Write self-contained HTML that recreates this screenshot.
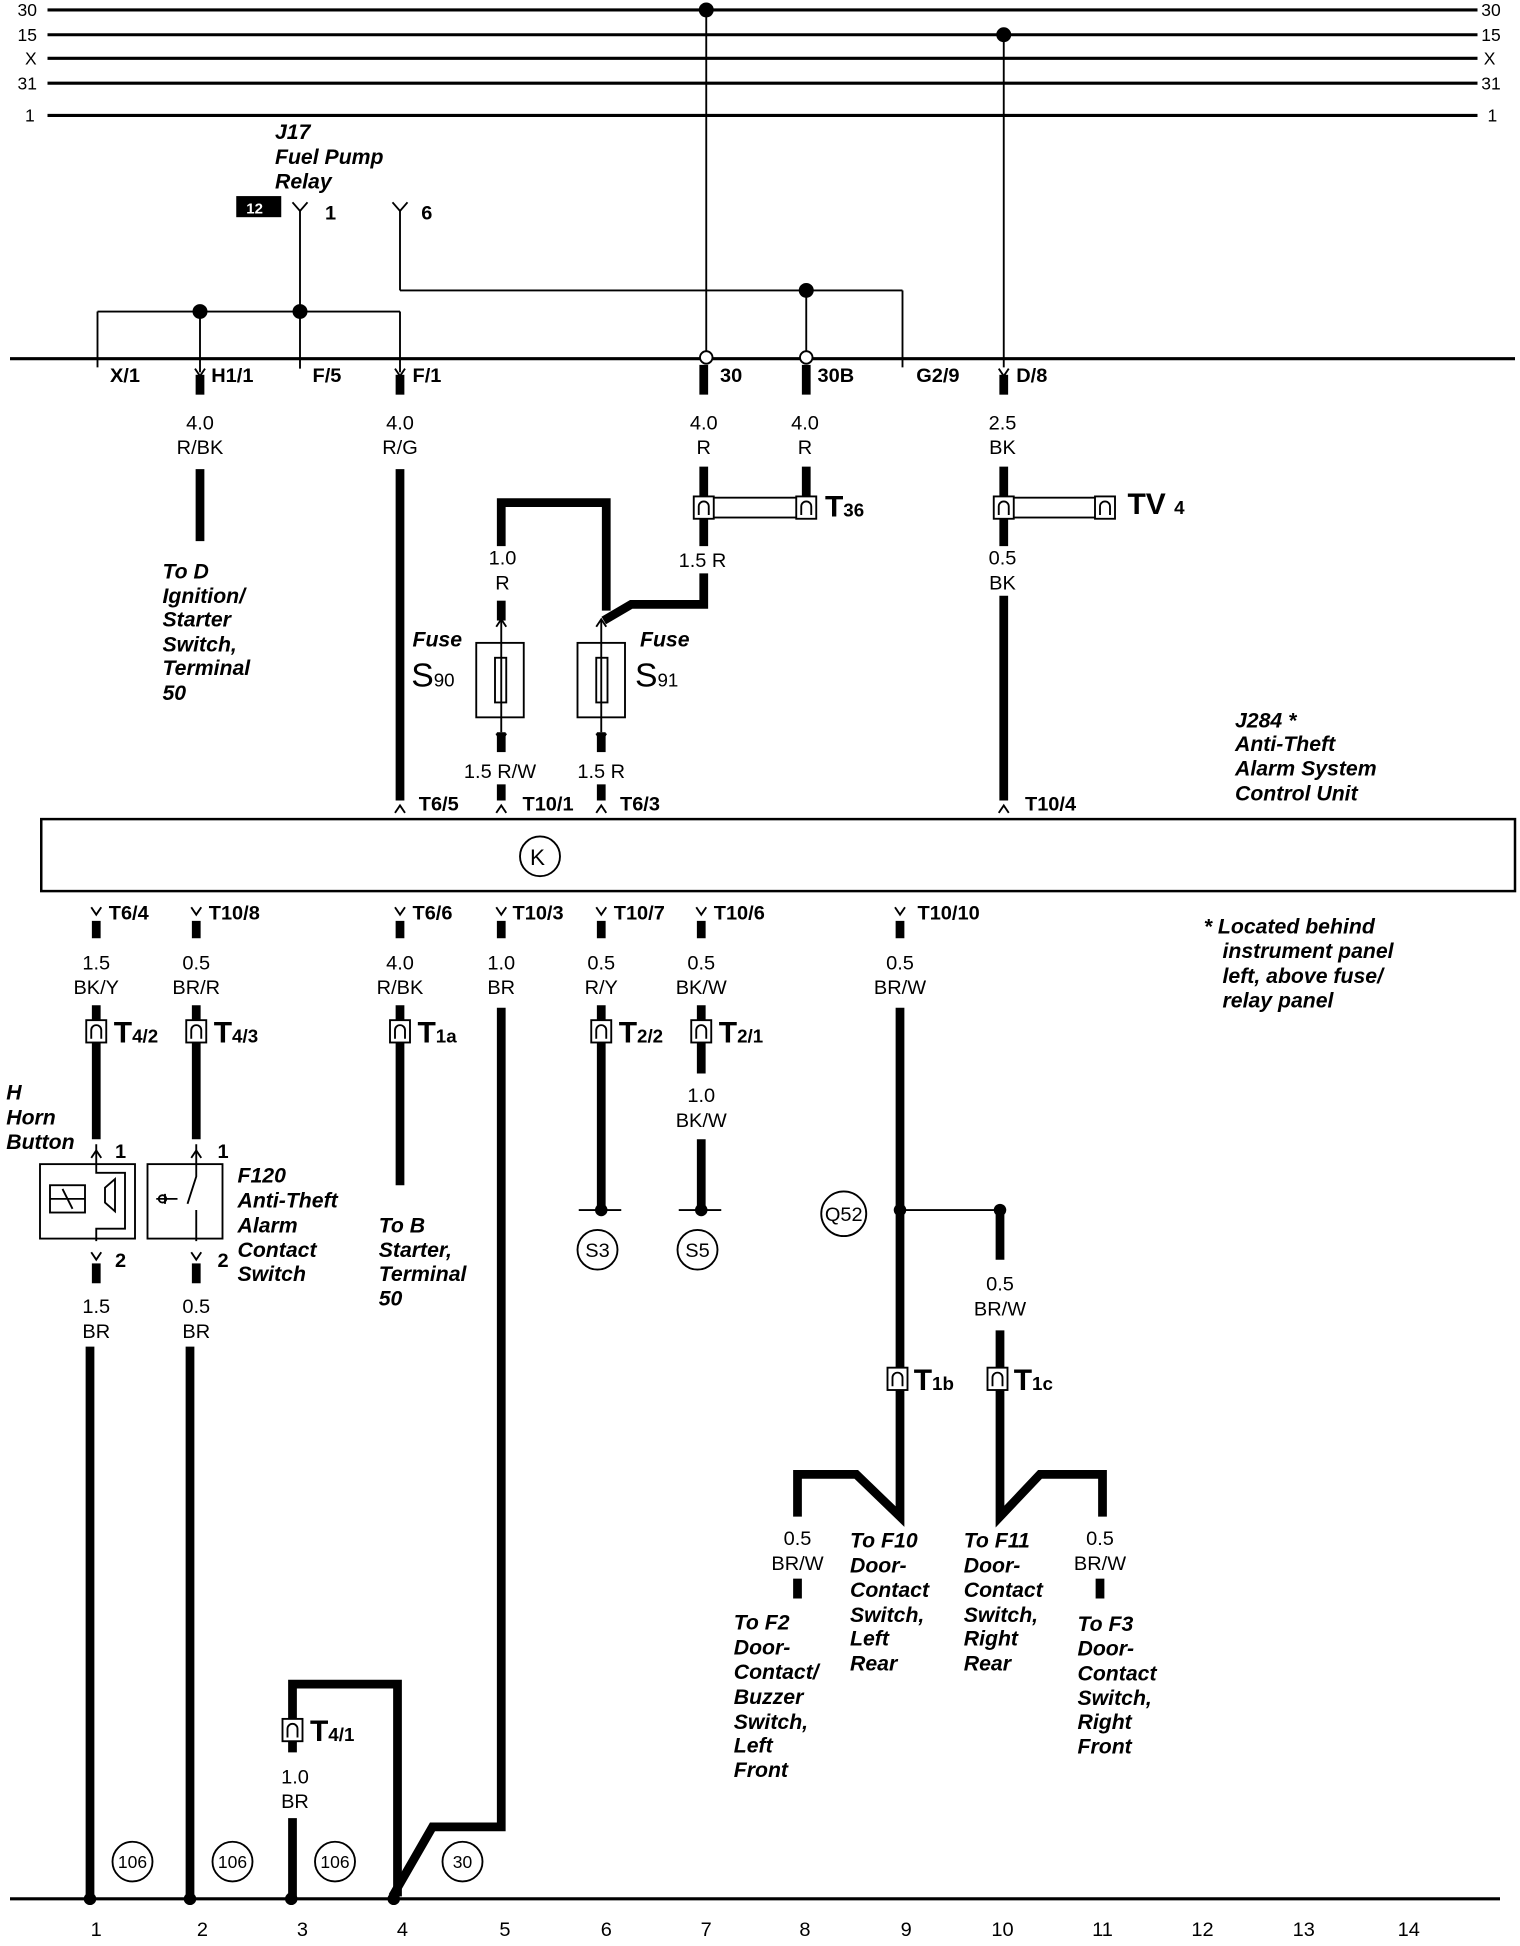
<!DOCTYPE html>
<html><head><meta charset="utf-8"><style>
html,body{margin:0;padding:0;background:#fff}
svg{display:block}
text{font-family:"Liberation Sans",sans-serif;fill:#000}
.w{font-size:16px;text-anchor:middle}
.p{font-size:16px;font-weight:bold}
.d{font-size:17px;font-weight:bold;font-style:italic}
.b{font-size:16px;text-anchor:middle}
.big{font-size:24px;font-weight:bold}
.sub{font-size:15px;font-weight:bold}
</style></head><body>
<svg width="1520" height="1946" viewBox="0 0 1216 1568" preserveAspectRatio="none" xmlns="http://www.w3.org/2000/svg">
<defs>
<g id="cn"><rect x="-8" y="-9" width="16" height="18" fill="#fff" stroke="#000" stroke-width="1.5"/><path d="M-4,6 V-1 A4,4 0 0 1 4,-1 V6" fill="none" stroke="#000" stroke-width="1.5"/></g>
<g id="ad"><path d="M-4,-5 L0,1 L4,-5" fill="none" stroke="#000" stroke-width="1.5"/></g>
<g id="au"><path d="M-4,5 L0,-1 L4,5" fill="none" stroke="#000" stroke-width="1.5"/></g>
</defs>
<g stroke="#000" fill="none">
<g stroke-width="2.5">
<line x1="38" y1="8" x2="1182" y2="8"/><line x1="38" y1="28" x2="1182" y2="28"/>
<line x1="38" y1="47" x2="1182" y2="47"/><line x1="38" y1="67" x2="1182" y2="67"/>
<line x1="38" y1="93" x2="1182" y2="93"/>
<line x1="8" y1="289" x2="1212" y2="289"/>
<line x1="8" y1="1530" x2="1200" y2="1530"/>
</g>
<g stroke-width="1.5">
<line x1="565" y1="8" x2="565" y2="284"/>
<line x1="803" y1="28" x2="803" y2="296"/>
<line x1="240" y1="170" x2="240" y2="297"/>
<line x1="78" y1="251" x2="320" y2="251"/>
<line x1="78" y1="251" x2="78" y2="296"/>
<line x1="160" y1="251" x2="160" y2="300"/>
<line x1="320" y1="251" x2="320" y2="300"/>
<line x1="320" y1="170" x2="320" y2="234"/>
<line x1="320" y1="234" x2="722" y2="234"/>
<line x1="722" y1="234" x2="722" y2="296"/>
<line x1="645" y1="234" x2="645" y2="284"/>
<path d="M234,163 L240,170 L246,163 M314,163 L320,170 L326,163"/>
</g>
<g fill="#000" stroke="none">
<circle cx="565" cy="8" r="6"/><circle cx="803" cy="28" r="6"/>
<circle cx="160" cy="251" r="6"/><circle cx="240" cy="251" r="6"/><circle cx="645" cy="234" r="6"/>
<rect x="189" y="158" width="36" height="17"/>
</g>
<circle cx="565" cy="288" r="5" fill="#fff" stroke-width="1.5"/>
<circle cx="645" cy="288" r="5" fill="#fff" stroke-width="1.5"/>

<g stroke-width="7">
<line x1="160" y1="302" x2="160" y2="318"/><line x1="160" y1="378" x2="160" y2="436"/>
<line x1="320" y1="302" x2="320" y2="318"/><line x1="320" y1="378" x2="320" y2="645"/>
<line x1="563" y1="294" x2="563" y2="318"/><line x1="563" y1="376" x2="563" y2="440"/>
<line x1="645" y1="294" x2="645" y2="318"/><line x1="645" y1="376" x2="645" y2="400"/>
<line x1="803" y1="302" x2="803" y2="318"/><line x1="803" y1="376" x2="803" y2="440"/>
<line x1="803" y1="480" x2="803" y2="645"/>
<polyline points="401,440 401,405 485,405 485,492"/>
<polyline points="563,462 563,487 505,487 483,500"/>
<line x1="401" y1="484" x2="401" y2="500"/>
<line x1="401" y1="590" x2="401" y2="606"/><line x1="401" y1="632" x2="401" y2="645"/>
<line x1="481" y1="590" x2="481" y2="606"/><line x1="481" y1="632" x2="481" y2="645"/>
<line x1="77" y1="742" x2="77" y2="756"/><line x1="157" y1="742" x2="157" y2="756"/>
<line x1="320" y1="742" x2="320" y2="756"/><line x1="401" y1="742" x2="401" y2="756"/>
<line x1="481" y1="742" x2="481" y2="756"/><line x1="561" y1="742" x2="561" y2="756"/>
<line x1="720" y1="742" x2="720" y2="756"/>
<line x1="77" y1="810" x2="77" y2="918"/><line x1="157" y1="810" x2="157" y2="918"/>
<line x1="320" y1="810" x2="320" y2="955"/>
<polyline points="401,812 401,1472 346,1472 314,1528"/>
<line x1="481" y1="810" x2="481" y2="975"/>
<line x1="561" y1="810" x2="561" y2="865"/><line x1="561" y1="918" x2="561" y2="975"/>
<polyline points="720,812 720,1222 685,1188 638,1188 638,1222"/>
<line x1="800" y1="975" x2="800" y2="1015"/>
<polyline points="800,1072 800,1222 832,1188 882,1188 882,1222"/>
<line x1="638" y1="1272" x2="638" y2="1288"/><line x1="880" y1="1272" x2="880" y2="1288"/>
<line x1="77" y1="1018" x2="77" y2="1034"/><line x1="157" y1="1018" x2="157" y2="1034"/>
<line x1="72" y1="1085" x2="72" y2="1528"/><line x1="152" y1="1085" x2="152" y2="1528"/>
<polyline points="234,1412 234,1357 318,1357 318,1528"/>
<line x1="234" y1="1465" x2="234" y2="1528"/>
</g>
<g stroke-width="1.5">
<line x1="463" y1="975" x2="497" y2="975"/><line x1="543" y1="975" x2="577" y2="975"/>
<line x1="720" y1="975" x2="800" y2="975"/>
<line x1="401" y1="500" x2="401" y2="590"/><line x1="481" y1="500" x2="481" y2="590"/>
</g>
<g fill="#000" stroke="none">
<circle cx="481" cy="975" r="5"/><circle cx="561" cy="975" r="5"/>
<circle cx="720" cy="975" r="5"/><circle cx="800" cy="975" r="5"/>
<circle cx="72" cy="1530" r="5"/><circle cx="152" cy="1530" r="5"/>
<circle cx="233" cy="1530" r="5"/><circle cx="315" cy="1530" r="5"/>
</g>
<g stroke-width="1.5">
<rect x="381" y="518" width="38" height="60"/><rect x="396" y="530" width="9" height="36"/>
<rect x="462" y="518" width="38" height="60"/><rect x="477" y="530" width="9" height="36"/>
<rect x="563" y="401" width="82" height="16"/><rect x="803" y="401" width="80" height="16"/>
<rect x="33" y="660" width="1179" height="58" stroke-width="2"/>
<circle cx="432" cy="690" r="16"/>
<rect x="32" y="938" width="76" height="60"/>
<rect x="118" y="938" width="60" height="60"/>
<rect x="40" y="955" width="28" height="22"/>
<path d="M77,922 V945 H100 V990 H77 V1000 M84,957 L92,950 V976 L84,969 Z M40,966 H68 M50,958 L58,974"/>
<path d="M157,922 V948 L150,970 M157,975 V1000 M125,966 L142,966 M132,962 L132,970"/>
<circle cx="130" cy="966" r="3"/>
<circle cx="478" cy="1007" r="16"/><circle cx="558" cy="1007" r="16"/>
<circle cx="675" cy="978" r="18"/>
<circle cx="106" cy="1500" r="16"/><circle cx="186" cy="1500" r="16"/>
<circle cx="268" cy="1500" r="16"/><circle cx="370" cy="1500" r="16"/>
</g>
</g>
<use href="#cn" x="563" y="409"/><use href="#cn" x="645" y="409"/>
<use href="#cn" x="803" y="409"/><use href="#cn" x="884" y="409"/>
<use href="#cn" x="77" y="831"/><use href="#cn" x="157" y="831"/>
<use href="#cn" x="320" y="831"/><use href="#cn" x="481" y="831"/>
<use href="#cn" x="561" y="831"/>
<use href="#cn" x="718" y="1111"/><use href="#cn" x="798" y="1111"/>
<use href="#cn" x="234" y="1394"/>
<use href="#ad" x="160" y="302"/><use href="#ad" x="320" y="302"/><use href="#ad" x="803" y="302"/>
<use href="#ad" x="401" y="596"/><use href="#ad" x="481" y="596"/>
<use href="#au" x="401" y="500"/><use href="#au" x="481" y="500"/>
<use href="#au" x="320" y="650"/><use href="#au" x="401" y="650"/><use href="#au" x="481" y="650"/><use href="#au" x="803" y="650"/>
<use href="#ad" x="77" y="736"/><use href="#ad" x="157" y="736"/><use href="#ad" x="320" y="736"/>
<use href="#ad" x="401" y="736"/><use href="#ad" x="481" y="736"/><use href="#ad" x="561" y="736"/><use href="#ad" x="720" y="736"/>
<use href="#au" x="77" y="928"/><use href="#au" x="157" y="928"/>
<use href="#ad" x="77" y="1014"/><use href="#ad" x="157" y="1014"/>

<g font-size="14">
<text x="14" y="13">30</text><text x="14" y="33">15</text><text x="20" y="52">X</text><text x="14" y="72">31</text><text x="20" y="98">1</text>
<text x="1185" y="13">30</text><text x="1185" y="33">15</text><text x="1187" y="52">X</text><text x="1185" y="72">31</text><text x="1190" y="98">1</text>
</g>
<text class="d" x="220" y="112">J17</text><text class="d" x="220" y="132">Fuel Pump</text><text class="d" x="220" y="152">Relay</text>
<text x="197" y="172" font-size="12" font-weight="bold" style="fill:#fff">12</text>
<text class="p" x="260" y="177">1</text><text class="p" x="337" y="177">6</text>
<text class="p" x="88" y="308">X/1</text><text class="p" x="169" y="308">H1/1</text><text class="p" x="250" y="308">F/5</text><text class="p" x="330" y="308">F/1</text>
<text class="p" x="576" y="308">30</text><text class="p" x="654" y="308">30B</text><text class="p" x="733" y="308">G2/9</text><text class="p" x="813" y="308">D/8</text>
<text class="w" x="160" y="346">4.0</text><text class="w" x="160" y="366">R/BK</text>
<text class="w" x="320" y="346">4.0</text><text class="w" x="320" y="366">R/G</text>
<text class="w" x="563" y="346">4.0</text><text class="w" x="563" y="366">R</text>
<text class="w" x="644" y="346">4.0</text><text class="w" x="644" y="366">R</text>
<text class="w" x="802" y="346">2.5</text><text class="w" x="802" y="366">BK</text>
<text class="big" x="660" y="416">T<tspan class="sub">36</tspan></text>
<text class="big" x="902" y="414">TV <tspan class="sub">4</tspan></text>
<text class="w" x="562" y="457">1.5 R</text>
<text class="w" x="402" y="455">1.0</text><text class="w" x="402" y="475">R</text>
<text class="w" x="802" y="455">0.5</text><text class="w" x="802" y="475">BK</text>
<g class="d"><text x="130" y="466">To D</text><text x="130" y="486">Ignition/</text><text x="130" y="505">Starter</text><text x="130" y="525">Switch,</text><text x="130" y="544">Terminal</text><text x="130" y="564">50</text></g>
<text class="d" x="330" y="521">Fuse</text><text x="329" y="553" font-size="27">S<tspan font-size="15">90</tspan></text>
<text class="d" x="512" y="521">Fuse</text><text x="508" y="553" font-size="27">S<tspan font-size="15">91</tspan></text>
<text class="w" x="400" y="627">1.5 R/W</text><text class="w" x="481" y="627">1.5 R</text>
<g class="p"><text x="335" y="653">T6/5</text><text x="418" y="653">T10/1</text><text x="496" y="653">T6/3</text><text x="820" y="653">T10/4</text></g>
<g class="d"><text x="988" y="586">J284 *</text><text x="988" y="605">Anti-Theft</text><text x="988" y="625">Alarm System</text><text x="988" y="645">Control Unit</text></g>
<text x="424" y="697" font-size="18">K</text>
<g class="p"><text x="87" y="741">T6/4</text><text x="167" y="741">T10/8</text><text x="330" y="741">T6/6</text><text x="410" y="741">T10/3</text><text x="491" y="741">T10/7</text><text x="571" y="741">T10/6</text><text x="734" y="741">T10/10</text></g>
<g class="d"><text x="963" y="752">* Located behind</text><text x="978" y="772">instrument panel</text><text x="978" y="792">left, above fuse/</text><text x="978" y="812">relay panel</text></g>
<text class="w" x="77" y="781">1.5</text><text class="w" x="77" y="801">BK/Y</text>
<text class="w" x="157" y="781">0.5</text><text class="w" x="157" y="801">BR/R</text>
<text class="w" x="320" y="781">4.0</text><text class="w" x="320" y="801">R/BK</text>
<text class="w" x="401" y="781">1.0</text><text class="w" x="401" y="801">BR</text>
<text class="w" x="481" y="781">0.5</text><text class="w" x="481" y="801">R/Y</text>
<text class="w" x="561" y="781">0.5</text><text class="w" x="561" y="801">BK/W</text>
<text class="w" x="720" y="781">0.5</text><text class="w" x="720" y="801">BR/W</text>
<text class="big" x="91" y="840">T<tspan class="sub">4/2</tspan></text>
<text class="big" x="171" y="840">T<tspan class="sub">4/3</tspan></text>
<text class="big" x="334" y="840">T<tspan class="sub">1a</tspan></text>
<text class="big" x="495" y="840">T<tspan class="sub">2/2</tspan></text>
<text class="big" x="575" y="840">T<tspan class="sub">2/1</tspan></text>
<text class="w" x="561" y="888">1.0</text><text class="w" x="561" y="908">BK/W</text>
<g class="d"><text x="5" y="886">H</text><text x="5" y="906">Horn</text><text x="5" y="926">Button</text></g>
<text class="p" x="92" y="933">1</text><text class="p" x="174" y="933">1</text>
<text class="p" x="92" y="1021">2</text><text class="p" x="174" y="1021">2</text>
<g class="d"><text x="190" y="953">F120</text><text x="190" y="973">Anti-Theft</text><text x="190" y="993">Alarm</text><text x="190" y="1013">Contact</text><text x="190" y="1032">Switch</text></g>
<g class="d"><text x="303" y="993">To B</text><text x="303" y="1013">Starter,</text><text x="303" y="1032">Terminal</text><text x="303" y="1052">50</text></g>
<text class="b" x="478" y="1013" font-size="15">S3</text><text class="b" x="558" y="1013" font-size="15">S5</text>
<text class="b" x="675" y="984" font-size="14">Q52</text>
<text class="w" x="800" y="1040">0.5</text><text class="w" x="800" y="1060">BR/W</text>
<text class="w" x="77" y="1058">1.5</text><text class="w" x="77" y="1078">BR</text>
<text class="w" x="157" y="1058">0.5</text><text class="w" x="157" y="1078">BR</text>
<text class="big" x="731" y="1120">T<tspan class="sub">1b</tspan></text>
<text class="big" x="811" y="1120">T<tspan class="sub">1c</tspan></text>
<text class="w" x="638" y="1245">0.5</text><text class="w" x="638" y="1265">BR/W</text>
<text class="w" x="880" y="1245">0.5</text><text class="w" x="880" y="1265">BR/W</text>
<g class="d">
<text x="587" y="1313">To F2</text><text x="587" y="1333">Door-</text><text x="587" y="1353">Contact/</text><text x="587" y="1373">Buzzer</text><text x="587" y="1393">Switch,</text><text x="587" y="1412">Left</text><text x="587" y="1432">Front</text>
<text x="680" y="1247">To F10</text><text x="680" y="1267">Door-</text><text x="680" y="1287">Contact</text><text x="680" y="1307">Switch,</text><text x="680" y="1326">Left</text><text x="680" y="1346">Rear</text>
<text x="771" y="1247">To F11</text><text x="771" y="1267">Door-</text><text x="771" y="1287">Contact</text><text x="771" y="1307">Switch,</text><text x="771" y="1326">Right</text><text x="771" y="1346">Rear</text>
<text x="862" y="1314">To F3</text><text x="862" y="1334">Door-</text><text x="862" y="1354">Contact</text><text x="862" y="1374">Switch,</text><text x="862" y="1393">Right</text><text x="862" y="1413">Front</text>
</g>
<text class="big" x="248" y="1403">T<tspan class="sub">4/1</tspan></text>
<text class="w" x="236" y="1437">1.0</text><text class="w" x="236" y="1457">BR</text>
<g font-size="14" text-anchor="middle"><text x="106" y="1505">106</text><text x="186" y="1505">106</text><text x="268" y="1505">106</text><text x="370" y="1505">30</text></g>
<g class="b"><text x="77" y="1560">1</text><text x="162" y="1560">2</text><text x="242" y="1560">3</text><text x="322" y="1560">4</text><text x="404" y="1560">5</text><text x="485" y="1560">6</text><text x="565" y="1560">7</text><text x="644" y="1560">8</text><text x="725" y="1560">9</text><text x="802" y="1560">10</text><text x="882" y="1560">11</text><text x="962" y="1560">12</text><text x="1043" y="1560">13</text><text x="1127" y="1560">14</text></g>
</svg>
</body></html>
